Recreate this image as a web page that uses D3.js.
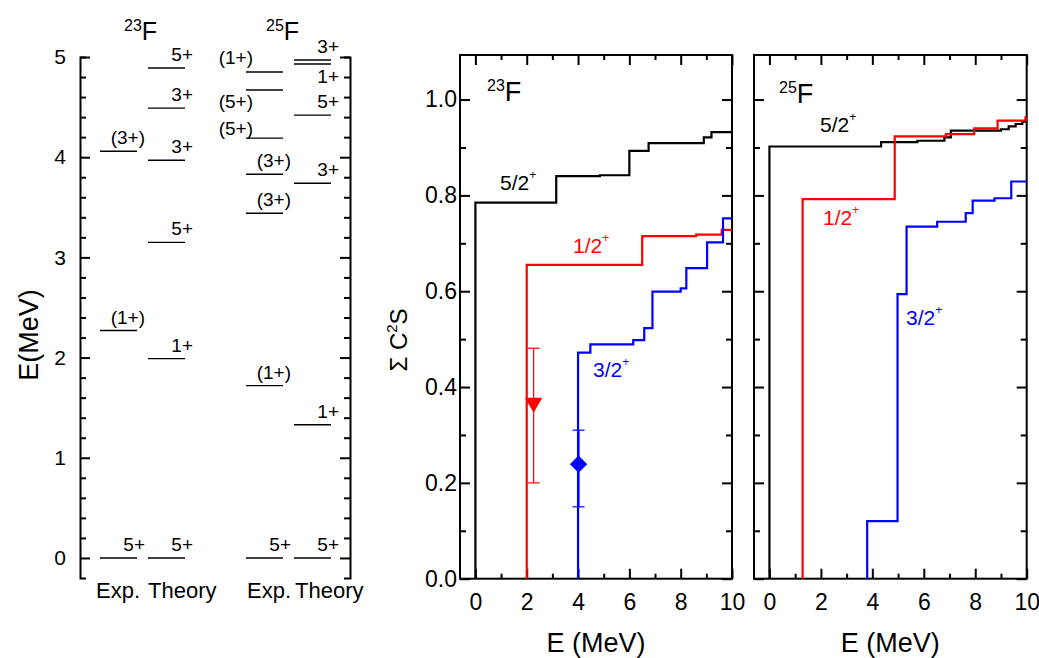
<!DOCTYPE html>
<html>
<head>
<meta charset="utf-8">
<script src="https://cdn.jsdelivr.net/npm/d3@7"></script>
<style>
  body { margin: 0; background: #fff; }
  text { font-family: "Liberation Sans", Arial, sans-serif; }
</style>
</head>
<body>
<script>
'use strict';

// ---- level scheme data (MeV) ----
const exp23Energy = [0, 2.27, 4.06];
const exp23Spin = ['5+', '(1+)', '(3+)'];
const th23Energy = [0, 1.99, 3.15, 3.97, 4.49, 4.89];
const th23Spin = ['5+', '1+', '5+', '3+', '3+', '5+'];
const exp25Energy = [0, 1.72, 3.44, 3.83, 4.19, 4.67, 4.85];
const exp25Spin = ['5+', '(1+)', '(3+)', '(3+)', '(5+)', '(5+)', '(1+)'];
const th25Energy = [0, 1.33, 3.74, 4.42, 4.93, 4.97];
const th25Spin = ['5+', '1+', '3+', '5+', '1+', '3+'];
const levelTicks = [0, 1, 2, 3, 4, 5];

// ---- cumulative spectroscopic factors: step start energies and sums ----
const f23BlackE = [0, 0, 3.15, 4.85, 6.0, 6.75, 8.9, 9.2, 10];
const f23BlackS = [0, 0.785, 0.840, 0.842, 0.893, 0.909, 0.921, 0.932, 0.932];
const f23RedE = [2, 2, 6.5, 8.6, 9.6, 10];
const f23RedS = [0, 0.655, 0.715, 0.718, 0.728, 0.728];
const f23BlueE = [4, 4, 4.48, 6.15, 6.58, 6.9, 8.0, 8.22, 9.03, 9.65, 10];
const f23BlueS = [0, 0.472, 0.489, 0.498, 0.523, 0.599, 0.606, 0.648, 0.702, 0.752, 0.752];

const f25BlackE = [0, 0, 4.34, 5.75, 6.8, 7.05, 9.0, 9.3, 9.57, 9.83, 10];
const f25BlackS = [0, 0.902, 0.911, 0.914, 0.921, 0.935, 0.938, 0.944, 0.949, 0.954, 0.954];
const f25RedE = [1.29, 1.29, 4.87, 6.86, 7.96, 8.87, 9.95, 10];
const f25RedS = [0, 0.792, 0.923, 0.928, 0.940, 0.956, 0.963, 0.963];
const f25BlueE = [3.8, 3.8, 4.98, 5.33, 6.52, 7.63, 7.9, 8.75, 9.4, 10];
const f25BlueS = [0, 0.12, 0.594, 0.735, 0.745, 0.763, 0.789, 0.794, 0.829, 0.829];

// experimental points for 23F
const expE = [2.27, 4.02];
const expS = [0.367, 0.239];
const expLo = [0.20, 0.15];
const expHi = [0.481, 0.31];

const xTicksMajor = [0, 2, 4, 6, 8, 10];
const xTicksMinor = [1, 3, 5, 7, 9];
const yTicksMajor = [0, 0.2, 0.4, 0.6, 0.8, 1.0];
const yTicksMinor = [0.1, 0.3, 0.5, 0.7, 0.9];

const svg = d3.select('body').append('svg')
  .attr('width', 1039)
  .attr('height', 658);

svg.append('rect').attr('width', 1039).attr('height', 658).attr('fill', '#fff');

// ================= left: level scheme =================
const yE = d3.scaleLinear().domain([-0.2, 5]).range([578, 57]);

function styleAxis(g, size) {
  g.selectAll('path, line').attr('stroke', '#000').attr('stroke-width', 2);
  g.selectAll('text').attr('font-size', size || 21).attr('fill', '#000')
    .attr('font-family', '"Liberation Sans", Arial, sans-serif');
}

const minorE = d3.range(0, 5.01, 0.2).filter((v) => Math.abs(v - Math.round(v)) > 0.01);

svg.append('g').attr('transform', 'translate(80,0)')
  .call(d3.axisLeft(yE).tickValues(levelTicks).tickSize(-10).tickSizeOuter(-6).tickPadding(14).tickFormat(d3.format('d')))
  .call(styleAxis);
svg.append('g').attr('transform', 'translate(80,0)')
  .call(d3.axisLeft(yE).tickValues(minorE).tickSize(-6).tickFormat(''))
  .call((g) => g.select('.domain').remove())
  .call(styleAxis);
svg.append('g').attr('transform', 'translate(350,0)')
  .call(d3.axisRight(yE).tickValues(levelTicks).tickSize(-10).tickSizeOuter(-6).tickFormat(''))
  .call(styleAxis);
svg.append('g').attr('transform', 'translate(350,0)')
  .call(d3.axisRight(yE).tickValues(minorE).tickSize(-6).tickFormat(''))
  .call((g) => g.select('.domain').remove())
  .call(styleAxis);

svg.append('text')
  .attr('transform', 'translate(38,335) rotate(-90)')
  .attr('text-anchor', 'middle')
  .attr('font-size', 27)
  .text('E(MeV)');

// level columns: x extent of lines and special label placements
const columns = [
  { x0: 100, x1: 137, energy: exp23Energy, spin: exp23Spin, special: {} },
  { x0: 148, x1: 185, energy: th23Energy, spin: th23Spin, special: {} },
  { x0: 246, x1: 283, energy: exp25Energy, spin: exp25Spin,
    special: { 4: { left: true, dy: -3 }, 5: { left: true, dy: 18 }, 6: { left: true, dy: -8 } } },
  { x0: 294, x1: 331, energy: th25Energy, spin: th25Spin, special: { 4: { dy: 19 } } }
];

columns.forEach((col) => {
  const g = svg.append('g');
  g.selectAll('line')
    .data(col.energy)
    .enter()
    .append('line')
    .attr('x1', col.x0)
    .attr('x2', col.x1)
    .attr('y1', (d) => yE(d))
    .attr('y2', (d) => yE(d))
    .attr('stroke', '#000')
    .attr('stroke-width', 1.4);
  g.selectAll('text')
    .data(col.energy)
    .enter()
    .append('text')
    .attr('x', (d, i) => (col.special[i] && col.special[i].left) ? col.x0 + 7 : col.x1 + 8)
    .attr('y', (d, i) => yE(d) + ((col.special[i] && col.special[i].dy !== undefined) ? col.special[i].dy : -7))
    .attr('text-anchor', 'end')
    .attr('font-size', 19)
    .text((d, i) => col.spin[i]);
});

function isotope(parent, x, y, mass, bigSize, smallSize) {
  const t = parent.append('text').attr('x', x).attr('y', y).attr('font-size', bigSize);
  t.append('tspan').attr('font-size', smallSize).attr('dy', -bigSize * 0.38).text(mass);
  t.append('tspan').attr('dy', bigSize * 0.38).text('F');
  return t;
}

isotope(svg, 124, 40, '23', 25, 16);
isotope(svg, 266, 40, '25', 25, 16);

[['Exp.', 96], ['Theory', 148], ['Exp.', 247], ['Theory', 295]].forEach((d) => {
  svg.append('text').attr('x', d[1]).attr('y', 598).attr('font-size', 22).text(d[0]);
});

// ================= right: spectroscopic factor panels =================
const y = d3.scaleLinear().domain([0, 1.093]).range([578.7, 55]);

function makePanel(left, right, showY) {
  const x = d3.scaleLinear().domain([-0.6, 10]).range([left, right]);
  const g = svg.append('g');

  g.append('rect')
    .attr('x', left).attr('y', y.range()[1])
    .attr('width', right - left).attr('height', y.range()[0] - y.range()[1])
    .attr('fill', 'none').attr('stroke', '#000').attr('stroke-width', 2);

  const bottom = y.range()[0];
  const top = y.range()[1];
  const noDomain = (s) => s.select('.domain').remove();

  g.append('g').attr('transform', 'translate(0,' + bottom + ')')
    .call(d3.axisBottom(x).tickValues(xTicksMajor).tickSize(-10).tickPadding(15))
    .call(noDomain).call(styleAxis, 23);
  g.append('g').attr('transform', 'translate(0,' + bottom + ')')
    .call(d3.axisBottom(x).tickValues(xTicksMinor).tickSize(-5).tickFormat(''))
    .call(noDomain).call(styleAxis);
  g.append('g').attr('transform', 'translate(0,' + top + ')')
    .call(d3.axisTop(x).tickValues(xTicksMajor).tickSize(-10).tickFormat(''))
    .call(noDomain).call(styleAxis);
  g.append('g').attr('transform', 'translate(0,' + top + ')')
    .call(d3.axisTop(x).tickValues(xTicksMinor).tickSize(-5).tickFormat(''))
    .call(noDomain).call(styleAxis);

  g.append('g').attr('transform', 'translate(' + left + ',0)')
    .call(d3.axisLeft(y).tickValues(yTicksMajor).tickSize(-10).tickPadding(3)
      .tickFormat(showY ? d3.format('.1f') : ''))
    .call(noDomain).call(styleAxis, 23);
  g.append('g').attr('transform', 'translate(' + left + ',0)')
    .call(d3.axisLeft(y).tickValues(yTicksMinor).tickSize(-6).tickFormat(''))
    .call(noDomain).call(styleAxis);
  g.append('g').attr('transform', 'translate(' + right + ',0)')
    .call(d3.axisRight(y).tickValues(yTicksMajor).tickSize(-10).tickFormat(''))
    .call(noDomain).call(styleAxis);
  g.append('g').attr('transform', 'translate(' + right + ',0)')
    .call(d3.axisRight(y).tickValues(yTicksMinor).tickSize(-6).tickFormat(''))
    .call(noDomain).call(styleAxis);

  g.append('text')
    .attr('x', (left + right) / 2).attr('y', 652)
    .attr('text-anchor', 'middle').attr('font-size', 27)
    .text('E (MeV)');

  return { g: g, x: x };
}

function stepLine(panel, es, ss, color) {
  const line = d3.line()
    .x((d) => panel.x(d[0]))
    .y((d) => y(d[1]))
    .curve(d3.curveStepAfter);
  panel.g.append('path')
    .datum(es.map((e, i) => [e, ss[i]]))
    .attr('d', line)
    .attr('fill', 'none')
    .attr('stroke', color)
    .attr('stroke-width', 2.2);
}

function stateLabel(panel, xPix, yPix, text, color) {
  const t = panel.g.append('text')
    .attr('x', xPix).attr('y', yPix)
    .attr('font-size', 21).attr('fill', color);
  t.append('tspan').text(text);
  t.append('tspan').attr('font-size', 12).attr('dy', -11).text('+');
}

// ---- 23F panel ----
const p23 = makePanel(460, 732, true);
stepLine(p23, f23BlackE, f23BlackS, '#000');
stepLine(p23, f23RedE, f23RedS, '#ff0000');
stepLine(p23, f23BlueE, f23BlueS, '#0000ff');

const expColors = ['#ff0000', '#0000ff'];
const expShapes = ['tri', 'dia'];
expE.forEach((e, i) => {
  const cx = p23.x(e);
  p23.g.append('line')
    .attr('x1', cx).attr('x2', cx)
    .attr('y1', y(expLo[i])).attr('y2', y(expHi[i]))
    .attr('stroke', expColors[i]).attr('stroke-width', i === 0 ? 1.2 : 2);
  [expLo[i], expHi[i]].forEach((v) => {
    p23.g.append('line')
      .attr('x1', cx - 6).attr('x2', cx + 6)
      .attr('y1', y(v)).attr('y2', y(v))
      .attr('stroke', expColors[i]).attr('stroke-width', 1.2);
  });
  const sym = expShapes[i] === 'tri'
    ? d3.symbol().type(d3.symbolTriangle).size(130)
    : d3.symbol().type(d3.symbolSquare).size(150);
  p23.g.append('path')
    .attr('d', sym())
    .attr('transform', 'translate(' + cx + ',' + y(expS[i]) + ') rotate(' + (expShapes[i] === 'tri' ? 180 : 45) + ')')
    .attr('fill', expColors[i]);
});

isotope(p23.g, 487, 101, '23', 27, 16);
stateLabel(p23, 500, 190, '5/2', '#000');
stateLabel(p23, 573, 253, '1/2', '#ff0000');
stateLabel(p23, 593, 377, '3/2', '#0000ff');

const yl = svg.append('text')
  .attr('transform', 'translate(407,340) rotate(-90)')
  .attr('text-anchor', 'middle')
  .attr('font-size', 24);
yl.append('tspan').text('\u03A3 C');
yl.append('tspan').attr('font-size', 15).attr('dy', -10).text('2');
yl.append('tspan').attr('dy', 10).text('S');

// ---- 25F panel ----
const p25 = makePanel(754, 1026.7, false);
stepLine(p25, f25BlackE, f25BlackS, '#000');
stepLine(p25, f25RedE, f25RedS, '#ff0000');
stepLine(p25, f25BlueE, f25BlueS, '#0000ff');

isotope(p25.g, 779, 103, '25', 27, 16);
stateLabel(p25, 820, 132, '5/2', '#000');
stateLabel(p25, 823, 225, '1/2', '#ff0000');
stateLabel(p25, 906, 325, '3/2', '#0000ff');
</script>
</body>
</html>
